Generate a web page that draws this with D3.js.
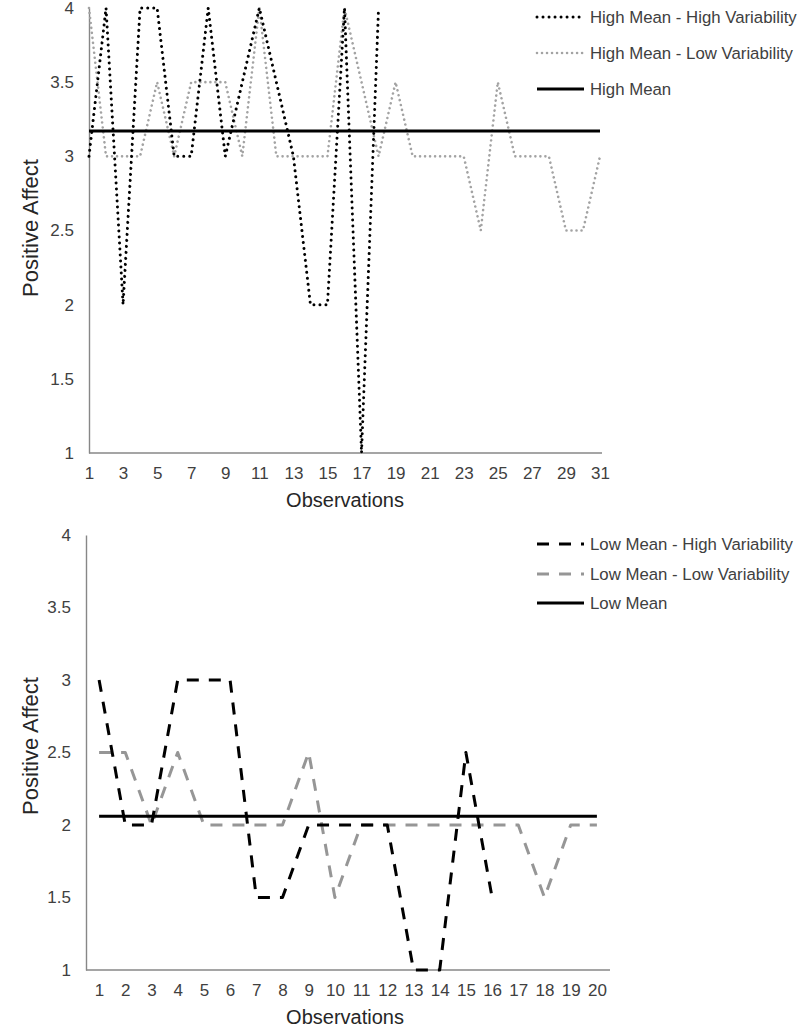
<!DOCTYPE html>
<html>
<head>
<meta charset="utf-8">
<script src="https://cdn.jsdelivr.net/npm/d3@7/dist/d3.min.js"></script>
<style>
  html, body { margin: 0; padding: 0; background: #fff; }
  svg { display: block; font-family: "Liberation Sans", Arial, sans-serif; }
</style>
</head>
<body>
<svg id="chart" width="800" height="1030"></svg>
<script>
// ---------- DATA ----------
const yTicks = [1, 1.5, 2, 2.5, 3, 3.5, 4];

// Top panel
const topObservations = d3.range(1, 32);
const topTickLabels = [1,3,5,7,9,11,13,15,17,19,21,23,25,27,29,31];
const highMeanHighVar = [3,4,2,4,4,3,3,4,3,3.5,4,3.5,3,2,2,4,1,4];
const highMeanLowVar  = [4,3,3,3,3.5,3,3.5,3.5,3.5,3,4,3,3,3,3,4,3.5,3,3.5,3,3,3,3,2.5,3.5,3,3,3,2.5,2.5,3];
const highMean = 3.17;
const topLegend = ["High Mean - High Variability", "High Mean - Low Variability", "High Mean"];

// Bottom panel
const bottomObservations = d3.range(1, 21);
const lowMeanHighVar = [3,2,2,3,3,3,1.5,1.5,2,2,2,2,1,1,2.5,1.5];
const lowMeanLowVar  = [2.5,2.5,2,2.5,2,2,2,2,2.5,1.5,2,2,2,2,2,2,2,1.5,2,2];
const lowMean = 2.06;
const bottomLegend = ["Low Mean - High Variability", "Low Mean - Low Variability", "Low Mean"];

const yTitle = "Positive Affect";
const xTitle = "Observations";

// ---------- STYLES ----------
const axisColor = "#878787";
const textColor = "#404040";
const styles = {
  hhv: { stroke: "#000", width: 3, dash: "0.01,6", cap: "round" },
  hlv: { stroke: "#a3a3a3", width: 2.6, dash: "0.01,5", cap: "round" },
  mean: { stroke: "#000", width: 3, dash: null, cap: "butt" },
  lhv: { stroke: "#000", width: 3, dash: "12,10", cap: "butt" },
  llv: { stroke: "#969696", width: 3, dash: "12,10", cap: "butt" }
};

const svg = d3.select("#chart");

function applyStyle(sel, s) {
  sel.attr("fill", "none")
     .attr("stroke", s.stroke)
     .attr("stroke-width", s.width)
     .attr("stroke-linecap", s.cap)
     .attr("stroke-linejoin", "round");
  if (s.dash) sel.attr("stroke-dasharray", s.dash);
  return sel;
}

function drawPanel(cfg) {
  const g = svg.append("g");
  const x = cfg.x, y = cfg.y;

  // y axis
  const yAxis = d3.axisLeft(y).tickValues(yTicks).tickSize(0).tickPadding(15)
    .tickFormat(d3.format("~g"));
  const ya = g.append("g").attr("transform", `translate(${cfg.left},0)`).call(yAxis);
  ya.select(".domain").attr("stroke", axisColor).attr("stroke-width", 1.4);
  ya.selectAll("text").attr("fill", textColor).attr("font-size", 17)
    .attr("font-family", "Liberation Sans, Arial, sans-serif");

  // x axis
  const xAxis = d3.axisBottom(x).tickValues(cfg.xTickValues).tickSize(0).tickPadding(14)
    .tickSizeOuter(0);
  const xa = g.append("g").attr("transform", `translate(0,${cfg.bottom})`).call(xAxis);
  xa.select(".domain").remove();
  xa.selectAll("text").attr("fill", textColor).attr("font-size", 17)
    .attr("font-family", "Liberation Sans, Arial, sans-serif");
  g.append("line")
    .attr("x1", cfg.left).attr("x2", cfg.axisRight)
    .attr("y1", cfg.bottom).attr("y2", cfg.bottom)
    .attr("stroke", axisColor).attr("stroke-width", 1.4);

  // titles
  g.append("text")
    .attr("x", cfg.xTitleX).attr("y", cfg.bottom + 54)
    .attr("text-anchor", "middle").attr("font-size", 20).attr("fill", "#262626")
    .text(xTitle);
  g.append("text")
    .attr("transform", `translate(38,${cfg.yTitleY}) rotate(-90)`)
    .attr("text-anchor", "middle").attr("font-size", 22).attr("fill", "#262626")
    .text(yTitle);

  // series
  const line = d3.line().x(d => x(d.o)).y(d => y(d.v));
  cfg.series.forEach(s => {
    const pts = s.values.map((v, i) => ({ o: cfg.obs[i], v }));
    applyStyle(g.append("path").datum(pts).attr("d", line), s.style);
  });

  // mean line
  const meanPts = [{ o: cfg.obs[0], v: cfg.mean }, { o: cfg.obs[cfg.obs.length - 1], v: cfg.mean }];
  applyStyle(g.append("path").datum(meanPts).attr("d", line), styles.mean);

  // legend
  const lg = g.append("g");
  cfg.legend.forEach((label, i) => {
    const yy = cfg.legendY[i];
    const st = cfg.legendStyles[i];
    applyStyle(lg.append("line").attr("x1", 537).attr("x2", 584).attr("y1", yy).attr("y2", yy), st);
    lg.append("text").attr("x", 590).attr("y", yy).attr("dy", "0.35em")
      .attr("font-size", 16.8).attr("fill", textColor).text(label);
  });
}

// Top panel
drawPanel({
  x: d3.scaleLinear().domain([1, 31]).range([89, 600]),
  y: d3.scaleLinear().domain([1, 4]).range([453, 8]),
  left: 89, bottom: 453, axisRight: 602, xTitleX: 345, yTitleY: 228,
  obs: topObservations,
  xTickValues: topTickLabels,
  series: [
    { values: highMeanLowVar, style: styles.hlv },
    { values: highMeanHighVar, style: styles.hhv }
  ],
  mean: highMean,
  legend: topLegend,
  legendY: [17, 53, 89],
  legendStyles: [styles.hhv, styles.hlv, styles.mean]
});

// Bottom panel
drawPanel({
  x: d3.scalePoint().domain(bottomObservations).range([86, 610]).padding(0.5),
  y: d3.scaleLinear().domain([1, 4]).range([970, 535]),
  left: 86, bottom: 970, axisRight: 610, xTitleX: 345, yTitleY: 746,
  obs: bottomObservations,
  xTickValues: bottomObservations,
  series: [
    { values: lowMeanLowVar, style: styles.llv },
    { values: lowMeanHighVar, style: styles.lhv }
  ],
  mean: lowMean,
  legend: bottomLegend,
  legendY: [544, 574, 603],
  legendStyles: [styles.lhv, styles.llv, styles.mean]
});
</script>
</body>
</html>
